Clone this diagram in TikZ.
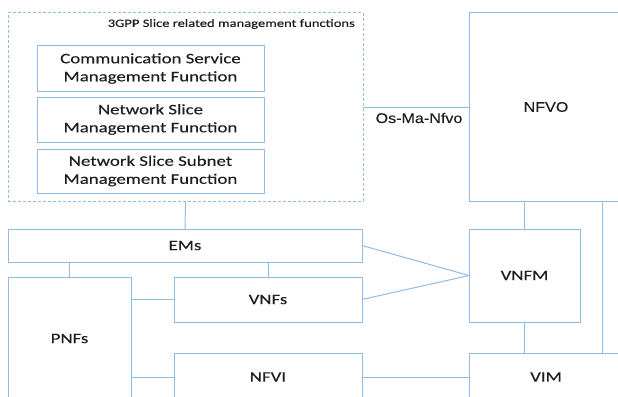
\documentclass[tikz,border=0pt]{standalone}
\usepackage{fontspec}
\newfontfamily\calibf[FakeStretch=1.3,FakeBold=0.25]{Carlito}
\newfontfamily\arialf[FakeStretch=1.15,FakeBold=0.15]{Liberation Sans}
\definecolor{lb}{RGB}{145,187,227}
\definecolor{tx}{RGB}{30,30,30}
\begin{document}
\begin{tikzpicture}[x=1pt,y=-1pt,
  box/.style={draw=lb,line width=1pt,inner sep=0pt,outer sep=0pt,align=center,text=tx,
    font=\calibf\fontsize{14.5}{18}\selectfont},
  abox/.style={box,font=\arialf\fontsize{14}{16}\selectfont},
  frame/.style={draw=lb,line width=1pt,dash pattern=on 3pt off 2pt,inner sep=0pt,outer sep=0pt},
  conn/.style={draw=lb,line width=1pt}]
\useasboundingbox (0,0) rectangle (618,396);
\clip (0,0) rectangle (618,396);
% dashed frame
\node[frame,minimum width=355pt,minimum height=188pt] (frame) at (185.5,107) {};
\node[anchor=east,inner sep=0pt,text=tx,font=\calibf\fontsize{11.2}{13}\selectfont] (ttl) at (355,24) {3GPP Slice related management functions};
% functions
\node[box,minimum width=227pt,minimum height=45pt] (csmf) at (150.5,68.5) {Communication Service\\Management Function};
\node[box,minimum width=227pt,minimum height=45pt] (nsmf) at (150.5,119.5) {Network Slice\\Management Function};
\node[box,minimum width=227pt,minimum height=44pt] (nssmf) at (150.5,171) {Network Slice Subnet\\Management Function};
% lower boxes
\node[box,minimum width=354pt,minimum height=33pt] (ems) at (185,245.5) {EMs};
\node[box,minimum width=123pt,minimum height=123pt] (pnfs) at (69.5,338.5) {PNFs};
\node[box,minimum width=188pt,minimum height=45pt] (vnfs) at (268,299.5) {VNFs};
\node[box,minimum width=188pt,minimum height=48pt] (nfvi) at (268,377) {NFVI};
\node[abox,minimum width=154pt,minimum height=188pt] (nfvo) at (546,107) {NFVO};
\node[box,minimum width=111pt,minimum height=93pt] (vnfm) at (524.5,275.5) {VNFM};
\node[box,minimum width=154pt,minimum height=48pt] (vim) at (546,377) {VIM};
% connectors
\draw[conn] (frame.south) -- (ems.north);
\draw[conn] (frame.east) -- (nfvo.west);
\node[inner sep=0pt,text=tx,font=\arialf\fontsize{14}{16}\selectfont] (osma) at (419,118) {Os-Ma-Nfvo};
\draw[conn] (pnfs.north) -- (pnfs.north |- ems.south);
\draw[conn] (vnfs.north) -- (vnfs.north |- ems.south);
\draw[conn] (vnfs.west) -- (vnfs.west -| pnfs.east);
\draw[conn] (nfvi.west) -- (nfvi.west -| pnfs.east);
\draw[conn] (nfvi.east) -- (vim.west);
\draw[conn] (ems.east) -- (vnfm.west);
\draw[conn] (vnfs.east) -- (vnfm.west);
\draw[conn] (vnfm.north) -- (vnfm.north |- nfvo.south);
\draw[conn] (vnfm.south) -- (vnfm.south |- vim.north);
\path (nfvo.south west) ++(133,0) coordinate (nvt);
\draw[conn] (nvt) -- (nvt |- vim.north);
\end{tikzpicture}
\end{document}
